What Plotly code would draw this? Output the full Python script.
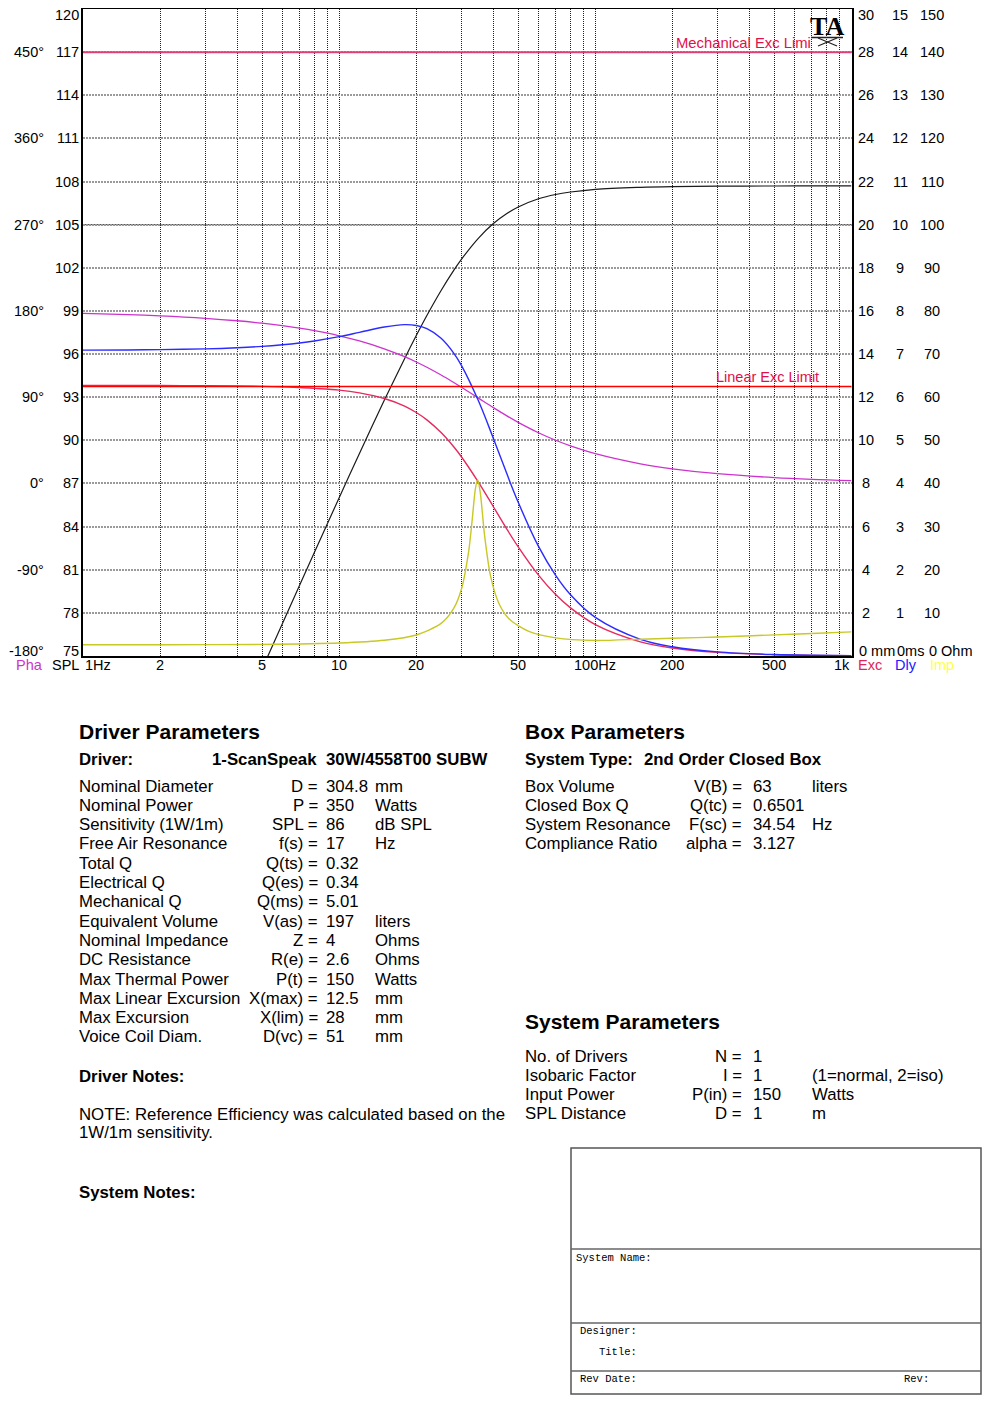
import math
import plotly.graph_objects as go

PAGE_W, PAGE_H = 991, 1403
OX, OY = 8, 8  # page body margin of the rendered html
W, H = PAGE_W - OX, PAGE_H - 2 * OY  # figure fits in the window without scrollbars
def px(x): return (x - OX) / W
def py(y): return 1 - (y - OY) / H

FONT = "Liberation Sans, Arial, sans-serif"
MONO = "Liberation Mono, Courier New, monospace"
SERIF = "Liberation Serif, Times New Roman, serif"

# ---------------- data ----------------
freq_hz = [1, 1.5, 2, 3, 4, 5, 6, 7, 8, 10, 12, 15, 18, 20, 22, 25, 28, 30, 35, 40,
           45, 50, 60, 70, 80, 100, 150, 200, 300, 500, 700, 1000]
phase_deg = [177.45, 176.17, 174.89, 172.33, 169.76, 167.19, 164.60, 161.99, 159.37, 154.08,
             148.71, 140.53, 132.26, 126.73, 121.24, 113.15, 105.37, 100.42, 89.01, 79.16,
             70.81, 63.80, 52.94, 45.09, 39.22, 31.10, 20.51, 15.31, 10.17, 6.10, 4.35, 3.05]
excursion_mm = [12.55, 12.55, 12.54, 12.53, 12.52, 12.50, 12.48, 12.45, 12.41, 12.33,
                12.20, 11.94, 11.59, 11.29, 10.95, 10.36, 9.70, 9.24, 8.05, 6.92,
                5.91, 5.06, 3.75, 2.85, 2.23, 1.456, 0.658, 0.372, 0.166, 0.060, 0.0305, 0.015]
delay_ms = [7.092, 7.096, 7.103, 7.121, 7.147, 7.178, 7.216, 7.258, 7.304, 7.403,
            7.503, 7.627, 7.682, 7.662, 7.588, 7.366, 7.023, 6.739, 5.911, 5.044,
            4.246, 3.563, 2.540, 1.869, 1.421, 0.895, 0.387, 0.215, 0.095, 0.034, 0.017, 0.0085]
spl_freq_hz = [4, 5, 6, 7, 8, 10, 12, 15, 18, 20, 22, 25, 28, 30, 35, 40, 45, 50, 60, 70,
               80, 100, 150, 200, 300, 500, 700, 1000]
spl_db = [70.23, 74.09, 77.24, 79.90, 82.19, 86.01, 89.08, 92.78, 95.68, 97.29, 98.68,
          100.42, 101.82, 102.59, 104.07, 105.08, 105.76, 106.23, 106.80, 107.10, 107.27,
          107.46, 107.60, 107.65, 107.68, 107.69, 107.70, 107.70]
imp_freq_hz = [1, 2, 5, 10, 15, 20, 25, 28, 30, 32, 33, 34, 34.7, 35.5, 37, 39, 42, 46,
               55, 70, 100, 150, 200, 300, 500, 700, 1000]
impedance_ohm = [2.60, 2.62, 2.69, 3.00, 3.64, 4.87, 7.55, 11.03, 15.47, 24.1, 31.1, 38.65,
                 40.9, 38.15, 27.7, 18.5, 12.23, 8.63, 5.7, 4.2, 3.6, 3.9, 4.1, 4.4, 4.9, 5.2, 5.6]

linear_exc_limit_mm = 12.5
mechanical_exc_limit_mm = 28

# axis ticks
spl_ticks = list(range(75, 121, 3))
phase_ticks = [-180, -90, 0, 90, 180, 270, 360, 450]
exc_ticks = list(range(2, 31, 2))
dly_ticks = list(range(1, 16))
imp_ticks = list(range(10, 151, 10))
freq_ticks = [1, 2, 5, 10, 20, 50, 100, 200, 500, 1000]
freq_tick_text = ["1Hz", "2", "5", "10", "20", "50", "100Hz", "200", "500", "1k"]
grid_freqs = [2, 3, 4, 5, 6, 7, 8, 9, 10, 20, 30, 40, 50, 60, 70, 80, 90,
              100, 200, 300, 400, 500, 600, 700, 800, 900]
solid_grid_db = [105]

# parameter tables
driver_rows = [
    ("Nominal Diameter", "D =", "304.8", "mm"),
    ("Nominal Power", "P =", "350", "Watts"),
    ("Sensitivity (1W/1m)", "SPL =", "86", "dB SPL"),
    ("Free Air Resonance", "f(s) =", "17", "Hz"),
    ("Total Q", "Q(ts) =", "0.32", ""),
    ("Electrical Q", "Q(es) =", "0.34", ""),
    ("Mechanical Q", "Q(ms) =", "5.01", ""),
    ("Equivalent Volume", "V(as) =", "197", "liters"),
    ("Nominal Impedance", "Z =", "4", "Ohms"),
    ("DC Resistance", "R(e) =", "2.6", "Ohms"),
    ("Max Thermal Power", "P(t) =", "150", "Watts"),
    ("Max Linear Excursion", "X(max) =", "12.5", "mm"),
    ("Max Excursion", "X(lim) =", "28", "mm"),
    ("Voice Coil Diam.", "D(vc) =", "51", "mm"),
]
box_rows = [
    ("Box Volume", "V(B) =", "63", "liters"),
    ("Closed Box Q", "Q(tc) =", "0.6501", ""),
    ("System Resonance", "F(sc) =", "34.54", "Hz"),
    ("Compliance Ratio", "alpha =", "3.127", ""),
]
system_rows = [
    ("No. of Drivers", "N =", "1", ""),
    ("Isobaric Factor", "I =", "1", "(1=normal, 2=iso)"),
    ("Input Power", "P(in) =", "150", "Watts"),
    ("SPL Distance", "D =", "1", "m"),
]

# ---------------- figure ----------------
fig = go.Figure()
C_PHA = "#cc33cc"
C_SPL = "#1a1a1a"
C_EXC = "#e62a5e"
C_DLY = "#2b2bff"
C_IMP = "#c8c826"

fig.add_trace(go.Scatter(x=freq_hz, y=phase_deg, yaxis="y2", mode="lines",
                         line=dict(color=C_PHA, width=1.3, shape="spline"), hoverinfo="skip"))
fig.add_trace(go.Scatter(x=imp_freq_hz, y=impedance_ohm, yaxis="y5", mode="lines",
                         line=dict(color=C_IMP, width=1.4, shape="spline", smoothing=0.8), hoverinfo="skip"))
fig.add_trace(go.Scatter(x=freq_hz, y=excursion_mm, yaxis="y3", mode="lines",
                         line=dict(color=C_EXC, width=1.4, shape="spline"), hoverinfo="skip"))
fig.add_trace(go.Scatter(x=freq_hz, y=delay_ms, yaxis="y4", mode="lines",
                         line=dict(color=C_DLY, width=1.4, shape="spline"), hoverinfo="skip"))
fig.add_trace(go.Scatter(x=spl_freq_hz, y=spl_db, yaxis="y", mode="lines",
                         line=dict(color=C_SPL, width=1.2, shape="spline"), hoverinfo="skip"))

dom_x = [px(83), px(851.5)]
dom_y = [py(656), py(9)]

shapes = []
for v in solid_grid_db:
    shapes.append(dict(type="line", xref="x domain", x0=0, x1=1, yref="y", y0=v, y1=v,
                       line=dict(color="#333333", width=1), layer="below"))
shapes.append(dict(type="line", xref="x domain", x0=0, x1=1, yref="y3",
                   y0=linear_exc_limit_mm, y1=linear_exc_limit_mm,
                   line=dict(color="#ff0000", width=1.5)))
shapes.append(dict(type="line", xref="x domain", x0=0, x1=1, yref="y3",
                   y0=mechanical_exc_limit_mm, y1=mechanical_exc_limit_mm,
                   line=dict(color="#e0407a", width=2)))

# TA logo decoration
shapes.append(dict(type="line", xref="paper", yref="paper", x0=px(811), x1=px(843), y0=py(37.5), y1=py(37.5),
                   line=dict(color="#222", width=1.5)))
shapes.append(dict(type="line", xref="paper", yref="paper", x0=px(818), x1=px(837), y0=py(38), y1=py(46),
                   line=dict(color="#222", width=1.3)))
shapes.append(dict(type="line", xref="paper", yref="paper", x0=px(818), x1=px(837), y0=py(46), y1=py(38),
                   line=dict(color="#222", width=1.3)))

# title block (kept inside the visible window)
TB_X0, TB_X1, TB_Y0, TB_Y1 = 571, 981, 1148, 1394
shapes.append(dict(type="rect", xref="paper", yref="paper", x0=px(TB_X0), x1=px(TB_X1), y0=py(TB_Y1), y1=py(TB_Y0),
                   line=dict(color="#555555", width=1.5)))
for yy in [1249, 1323, 1371]:
    shapes.append(dict(type="line", xref="paper", yref="paper", x0=px(TB_X0), x1=px(TB_X1), y0=py(yy), y1=py(yy),
                       line=dict(color="#666666", width=1.5)))

ann = []
def txt(x, y, s, size=16.8, color="black", anchor="left", bold=False, family=FONT,
        xref="paper", yref="paper", yshift=0, yanchor="middle"):
    ann.append(dict(x=x, y=y, xref=xref, yref=yref, text=f"<b>{s}</b>" if bold else s,
                    showarrow=False, xanchor=anchor, yanchor=yanchor, yshift=yshift,
                    font=dict(family=family, size=size, color=color)))

TK = 14.5
def end_shift(v, lo, hi):
    if v == hi:
        return -6
    if v == lo:
        return 5
    return 0

for v in spl_ticks:
    txt(px(81), v, str(v), TK, anchor="right", yref="y", yshift=end_shift(v, 75, 120))
for v in phase_ticks:
    txt(px(46), v, f"{v}°", TK, anchor="right", yref="y2", yshift=end_shift(v, -180, 495))
for v in exc_ticks:
    txt(px(866), v, str(v), TK, anchor="center", yref="y3", yshift=end_shift(v, 0, 30))
for v in dly_ticks:
    txt(px(900), v, str(v), TK, anchor="center", yref="y4", yshift=end_shift(v, 0, 15))
for v in imp_ticks:
    txt(px(932), v, str(v), TK, anchor="center", yref="y5", yshift=end_shift(v, 0, 150))
txt(px(857), 0, "0 mm", TK, yref="y3", yshift=5)
txt(px(895), 0, "0ms", TK, yref="y4", yshift=5)
txt(px(927), 0, "0 Ohm", TK, yref="y5", yshift=5)

# x tick labels
for f, lab in zip(freq_ticks, freq_tick_text):
    a = "left" if f == freq_ticks[0] else ("right" if f == freq_ticks[-1] else "center")
    txt(math.log10(f), py(665), lab, TK, anchor=a, xref="x")
txt(px(29), py(665), "Pha", TK, color=C_PHA, anchor="center")
txt(px(65.5), py(665), "SPL", TK, anchor="center")
txt(px(856), py(665), "Exc", TK, color="#e0245a")
txt(px(893), py(665), "Dly", TK, color="#2020ff")
txt(px(928), py(665), "Imp", TK, color="#ffff44")

# limit labels
txt(px(813), mechanical_exc_limit_mm, "Mechanical Exc Limi", 14.8, color="#e0104a", anchor="right",
    yref="y3", yanchor="bottom", yshift=-1)
txt(px(821), linear_exc_limit_mm, "Linear Exc Limit", 14.5, color="#e0104a", anchor="right",
    yref="y3", yanchor="bottom", yshift=-1)
# TA logo text
txt(px(827), py(26), "TA", 26, anchor="center", bold=True, family=SERIF)

# ---------------- parameter text ----------------
BS = 16.8
HS = 21
LX = 77
txt(px(LX), py(731), "Driver Parameters", HS, bold=True)
txt(px(LX), py(759), "Driver:", BS, bold=True)
txt(px(210), py(759), "1-ScanSpeak", BS, bold=True)
txt(px(324), py(759), "30W/4558T00 SUBW", BS, bold=True)
ROW = 19.3
for i, (lab, sym, val, unit) in enumerate(driver_rows):
    y = py(786 + i * ROW)
    txt(px(LX), y, lab, BS)
    txt(px(320), y, sym, BS, anchor="right")
    txt(px(324), y, val, BS)
    if unit:
        txt(px(373), y, unit, BS)
txt(px(LX), py(1076), "Driver Notes:", BS, bold=True)
txt(px(LX), py(1114), "NOTE: Reference Efficiency was calculated based on the", BS)
txt(px(LX), py(1132), "1W/1m sensitivity.", BS)
txt(px(LX), py(1192), "System Notes:", BS, bold=True)

RX = 523
txt(px(RX), py(731), "Box Parameters", HS, bold=True)
txt(px(RX), py(759), "System Type:", BS, bold=True)
txt(px(642), py(759), "2nd Order Closed Box", BS, bold=True)
for i, (lab, sym, val, unit) in enumerate(box_rows):
    y = py(786 + i * ROW)
    txt(px(RX), y, lab, BS)
    txt(px(744), y, sym, BS, anchor="right")
    txt(px(751), y, val, BS)
    if unit:
        txt(px(810), y, unit, BS)

txt(px(RX), py(1021), "System Parameters", HS, bold=True)
for i, (lab, sym, val, unit) in enumerate(system_rows):
    y = py(1056 + i * ROW)
    txt(px(RX), y, lab, BS)
    txt(px(744), y, sym, BS, anchor="right")
    txt(px(751), y, val, BS)
    if unit:
        txt(px(810), y, unit, BS)

MS = 10.5
txt(px(574), py(1258), "System Name:", MS, family=MONO)
txt(px(578), py(1331), "Designer:", MS, family=MONO)
txt(px(597), py(1352), "Title:", MS, family=MONO)
txt(px(578), py(1379), "Rev Date:", MS, family=MONO)
txt(px(902), py(1379), "Rev:", MS, family=MONO)

hidden = dict(overlaying="y", visible=False, showgrid=False, zeroline=False, domain=dom_y)
fig.update_layout(
    width=W, height=H, margin=dict(l=0, r=0, t=0, b=0),
    paper_bgcolor="white", plot_bgcolor="white", showlegend=False,
    xaxis=dict(type="log", range=[0, 3], domain=dom_x, tickvals=grid_freqs, showticklabels=False,
               ticks="", showgrid=True, gridcolor="#222222", gridwidth=1, griddash="1px,1px",
               showline=True, linecolor="black", linewidth=2, mirror=True, zeroline=False, anchor="y"),
    yaxis=dict(range=[75, 120], domain=dom_y, tickvals=spl_ticks[1:-1], showticklabels=False, ticks="",
               showgrid=True, gridcolor="#9a9a9a", gridwidth=2, griddash="2px,1px",
               showline=True, linecolor="black", linewidth=2, mirror=True, zeroline=False),
    yaxis2=dict(range=[-180, 495], **hidden),
    yaxis3=dict(range=[0, 30], **hidden),
    yaxis4=dict(range=[0, 15], **hidden),
    yaxis5=dict(range=[0, 150], **hidden),
    shapes=shapes, annotations=ann,
)

fig.write_html("out.html")
